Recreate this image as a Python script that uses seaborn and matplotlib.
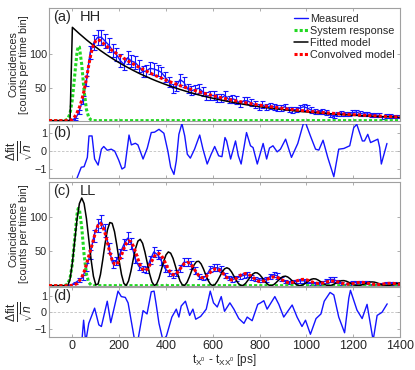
import numpy as np
import matplotlib
matplotlib.use('Agg')
import matplotlib.pyplot as plt
import seaborn as sns

sns.set_theme(style='ticks')
plt.rcParams['font.family'] = ['Liberation Sans', 'DejaVu Sans']
plt.rcParams['mathtext.fontset'] = 'custom'
plt.rcParams['mathtext.rm'] = 'Liberation Sans'
plt.rcParams['mathtext.it'] = 'Liberation Sans:italic'

# 时间轴 (ps)
t_model = np.arange(-100, 1401, 10)
t_meas = np.arange(-100, 1389, 16)

# 系统响应 (两组共用)
t_sys = [-100, -40, -30, -20, -10, 0, 10, 20, 25, 30, 40, 50, 60, 70, 80, 90, 1400]
sys_resp = [0, 0, 0.4, 2.5, 10.6, 32.0, 68.5, 103.8, 112.2, 111.3, 84.4, 45.2, 17.2, 4.6, 0.9, 0, 0]

# (a) HH
fit_hh = [0, 0, 0, 0, 0, 0, 0, 0, 0, 0,
          141.0, 137.7, 134.4, 131.3, 128.2, 125.2, 122.2, 119.3, 116.5, 113.8,
          111.1, 108.5, 105.9, 103.4, 101.0, 98.6, 96.3, 94.0, 91.8, 89.6,
          87.5, 85.5, 83.4, 81.5, 79.6, 77.7, 75.9, 74.1, 72.3, 70.6,
          69.0, 67.3, 65.8, 64.2, 62.7, 61.2, 59.8, 58.4, 57.0, 55.7,
          54.4, 53.1, 51.8, 50.6, 49.4, 48.2, 47.1, 46.0, 44.9, 43.9,
          42.8, 41.8, 40.8, 39.9, 38.9, 38.0, 37.1, 36.3, 35.4, 34.6,
          33.8, 33.0, 32.2, 31.4, 30.7, 30.0, 29.3, 28.6, 27.9, 27.2,
          26.6, 26.0, 25.4, 24.8, 24.2, 23.6, 23.1, 22.5, 22.0, 21.5,
          21.0, 20.5, 20.0, 19.5, 19.1, 18.6, 18.2, 17.8, 17.3, 16.9,
          16.5, 16.1, 15.8, 15.4, 15.0, 14.7, 14.3, 14.0, 13.7, 13.3,
          13.0, 12.7, 12.4, 12.1, 11.8, 11.6, 11.3, 11.0, 10.8, 10.5,
          10.3, 10.0, 9.8, 9.6, 9.3, 9.1, 8.9, 8.7, 8.5, 8.3,
          8.1, 7.9, 7.7, 7.5, 7.4, 7.2, 7.0, 6.9, 6.7, 6.5,
          6.4, 6.2, 6.1, 5.9, 5.8, 5.7, 5.5, 5.4, 5.3, 5.2,
          5.0]
conv_hh = [0, 0, 0, 0, 0, 0, 0, 0, 0, 0.5,
           2, 6, 12, 20, 31, 45, 63, 84, 102, 114,
           120.5, 122.5, 120.5, 117.5, 114.0, 111.3, 108.6, 106.1, 103.6, 101.1,
           98.7, 96.4, 94.1, 91.9, 89.7, 87.6, 85.5, 83.5, 81.5, 79.6,
           77.7, 75.9, 74.1, 72.3, 70.6, 68.9, 67.3, 65.7, 64.1, 62.6,
           61.1, 59.7, 58.3, 56.9, 55.5, 54.2, 52.9, 51.7, 50.4, 49.2,
           48.1, 46.9, 45.8, 44.7, 43.7, 42.6, 41.6, 40.6, 39.7, 38.7,
           37.8, 36.9, 36.0, 35.2, 34.3, 33.5, 32.7, 32.0, 31.2, 30.5,
           29.7, 29.0, 28.3, 27.7, 27.0, 26.4, 25.7, 25.1, 24.5, 23.9,
           23.4, 22.8, 22.3, 21.7, 21.2, 20.7, 20.2, 19.7, 19.3, 18.8,
           18.4, 17.9, 17.5, 17.1, 16.7, 16.3, 15.9, 15.5, 15.2, 14.8,
           14.5, 14.1, 13.8, 13.4, 13.1, 12.8, 12.5, 12.2, 11.9, 11.6,
           11.4, 11.1, 10.8, 10.6, 10.3, 10.1, 9.9, 9.6, 9.4, 9.2,
           9.0, 8.7, 8.5, 8.3, 8.1, 7.9, 7.8, 7.6, 7.4, 7.2,
           7.0, 6.9, 6.7, 6.6, 6.4, 6.2, 6.1, 5.9, 5.8, 5.7,
           5.5]
meas_hh = [0, 0, 0, 0, 0, 0, 1, 2, 13, 31,
           60, 103, 118, 126, 126, 120, 114, 106, 100, 91,
           85, 95, 90, 88, 82, 74, 75, 79, 78, 76,
           73, 66, 59, 49, 52, 62, 58, 48, 45, 47,
           49, 44, 37, 38, 38, 34, 34, 38, 32, 33,
           31, 25, 30, 30, 27, 24, 21, 24, 20, 22,
           21, 19, 19, 21, 17, 16, 17, 19, 21, 19,
           16, 14, 13, 14, 12, 9, 6, 10, 11, 10,
           10, 12, 13, 11, 10, 10, 9, 9, 8, 5,
           7, 7, 6, 6]

# (b) HH 残差
t_res_hh = [10, 17, 38, 50, 64, 71, 84, 95, 110, 124, 134, 149, 166, 181, 198, 212, 224,
            242, 252, 269, 280, 302, 320, 337, 351, 370, 391, 408, 420, 434, 444, 455,
            468, 480, 491, 504, 522, 544, 558, 576, 593, 608, 625, 639, 652, 659, 676,
            697, 709, 721, 744, 761, 772, 790, 815, 830, 842, 857, 875, 889, 911, 936,
            963, 986, 996, 1017, 1039, 1053, 1071, 1091, 1117, 1138, 1160, 1185, 1202,
            1215, 1239, 1248, 1262, 1274, 1305, 1313, 1320, 1344]
res_hh = [-2.0, -1.6, -0.9, -0.87, -0.35, 0.85, 0.85, -0.44, -0.78, 0.11, 0.26, 0.05, 0.11,
          0.0, -0.5, -1.0, -0.9, 0.9, 0.35, 0.44, 0.35, -0.44, 0.17, 1.04, 1.06, 1.22, 1.0,
          0.0, -0.9, -1.3, -0.54, 0.94, 1.54, 0.85, -0.17, -0.39, 0.11, 0.9, 0.11, -0.72,
          -0.17, 0.26, -0.26, -0.31, 0.76, 0.57, -0.44, 0.57, -0.26, -0.72, 1.04, 0.3, 0.2,
          -0.72, 0.43, -0.44, 0.17, 0.3, -0.04, 0.11, 0.67, -0.35, 0.43, 1.5, 1.6, 0.85,
          0.11, 0.06, 0.61, -0.35, -1.43, 0.11, 0.15, 0.3, 1.31, 1.5, 0.57, 0.57, 0.94,
          0.48, 0.67, 0.2, -0.72, 0.43]

# (c) LL
fit_ll = [0, 0, 0, 0, 0, 0, 0, 0, 0, 9.1,
          33.3, 65.5, 96.8, 119.3, 127.3, 119.4, 97.7, 68.0, 37.6, 13.5,
          1.1, 2.5, 16.2, 38.0, 61.8, 81.3, 91.7, 90.6, 78.5, 58.6,
          35.9, 16.0, 3.2, 0.2, 6.9, 20.9, 38.1, 54.1, 64.7, 67.3,
          61.5, 48.8, 32.7, 17.0, 5.3, 0.2, 2.3, 10.6, 22.7, 35.1,
          44.7, 49.0, 47.1, 39.7, 28.6, 16.8, 6.8, 1.0, 0.4, 4.9,
          12.8, 22.0, 30.1, 34.9, 35.4, 31.5, 24.3, 15.6, 7.6, 2.0,
          0, 1.9, 6.8, 13.4, 19.8, 24.4, 26.0, 24.4, 20.0, 13.9,
          7.7, 2.8, 0.2, 0.5, 3.3, 7.8, 12.6, 16.6, 18.8, 18.5,
          16.0, 12.0, 7.3, 3.3, 0.7, 0.0, 1.4, 4.3, 7.8, 11.1,
          13.2, 13.8, 12.6, 10.0, 6.7, 3.5, 1.1, 0.0, 0.5, 2.2,
          4.6, 7.2, 9.2, 10.0, 9.7, 8.1, 5.9, 3.4, 1.4, 0.2,
          0.1, 1.0, 2.6, 4.5, 6.2, 7.2, 7.3, 6.5, 5.0, 3.2,
          1.6, 0.4, 0, 0.4, 1.4, 2.8, 4.1, 5.1, 5.4, 5.1,
          4.2, 2.9, 1.6, 0.6, 0.0, 0.1, 0.7, 1.6, 2.7, 3.5,
          4.0]
conv_ll = [0, 0, 0, 0, 0, 0, 0, 0, 0, 0,
           0.5, 1.5, 3, 7, 12, 20, 31, 43, 54, 66.8,
           79.2, 87.9, 90.4, 86.0, 75.8, 62.1, 48.2, 37.1, 31.0, 30.8,
           35.8, 44.4, 53.8, 61.3, 65.0, 63.8, 57.9, 48.9, 38.7, 29.6,
           23.6, 21.7, 24.0, 29.4, 36.1, 42.3, 46.2, 46.7, 43.9, 38.1,
           30.9, 23.8, 18.4, 15.8, 16.3, 19.5, 24.1, 28.9, 32.4, 33.9,
           32.8, 29.4, 24.4, 19.1, 14.7, 11.9, 11.4, 13.0, 16.0, 19.5,
           22.5, 24.2, 24.2, 22.2, 19.1, 15.3, 11.7, 9.2, 8.2, 8.7,
           10.5, 13.0, 15.5, 17.1, 17.6, 16.8, 14.8, 12.2, 9.4, 7.2,
           6.0, 6.0, 7.0, 8.6, 10.4, 12.0, 12.6, 12.4, 11.3, 9.6,
           7.5, 5.7, 4.6, 4.2, 4.6, 5.7, 7.1, 8.2, 9.0, 9.1,
           8.5, 7.4, 6.0, 4.6, 3.6, 3.1, 3.2, 3.8, 4.7, 5.6,
           6.3, 6.6, 6.4, 5.7, 4.8, 3.7, 2.8, 2.3, 2.2, 2.5,
           3.1, 3.8, 4.4, 4.7, 4.7, 4.3, 3.7, 3.0, 2.3, 1.8,
           1.6, 1.7, 2.0, 2.5, 3.0, 3.3, 3.4, 3.3, 2.9, 2.4,
           1.8]
meas_ll = [0, 0, 0, 0, 0, 0, 1, 4, 8, 12,
           27, 45, 72, 88, 93, 80, 55, 32, 36, 47,
           60, 69, 61, 39, 28, 24, 23, 37, 49, 45,
           36, 25, 19, 15, 18, 25, 34, 34, 30, 22,
           13, 11, 14, 24, 26, 26, 24, 15, 11, 9,
           10.5, 13, 15, 16, 12, 10, 8, 8, 9, 13,
           16, 14, 10, 6, 5, 5.5, 6, 7, 7, 6,
           3, 3, 3, 4.5, 7, 9, 9, 6, 3, 1,
           3.4, 4.4, 4.3, 4.2, 4.1, 4.6, 1.3, 1.1, 1.6, 2.2,
           3.6, 3.5, 3, 2.7]

# (d) LL 残差
t_res_ll = [39, 48, 57, 70, 95, 113, 124, 149, 164, 195, 209, 226, 238, 266, 280, 302, 319,
            337, 349, 358, 370, 387, 402, 425, 444, 455, 465, 483, 501, 515, 527, 548,
            572, 589, 603, 619, 636, 650, 673, 690, 711, 733, 747, 768, 792, 804, 818,
            832, 865, 882, 903, 939, 960, 981, 996, 1017, 1041, 1062, 1076, 1101, 1117,
            1138, 1163, 1181, 1188, 1216, 1238, 1259, 1285, 1302, 1323, 1345]
res_ll = [-2.0, -0.48, -1.8, -0.67, 0.25, -0.76, -0.86, 0.67, -0.63, 1.28, 0.95, 0.9, 0.57,
          -1.7, -1.7, 0.1, -0.1, 1.24, 1.28, 0.48, -0.67, -1.7, -1.43, -0.29, 0.19, -0.29,
          0.38, 0.67, -0.19, 0.19, -0.42, -0.25, 0.19, 1.28, 0.57, 0.32, 0.95, 0.06, 0.57,
          0.19, -0.38, -0.67, -0.29, -0.51, 0.48, 0.57, 0.7, 0.19, 0.95, 0.48, -0.29, 0.44,
          -0.29, -0.86, -0.48, -1.33, -0.38, -0.1, 0.67, 1.2, 1.05, -0.29, -1.24, 0.86,
          1.33, 0.13, -0.38, 0.48, -1.7, -0.19, 0.0, 0.51]

BLUE = '#1414ff'
GREEN = '#22d822'
RED = '#ff0000'
EDGE = '#a0a0a0'
DOT = (0, (1, 0.7))


def draw_counts(ax, meas, fit, conv):
    # 泊松计数误差
    ax.errorbar(t_meas, meas, yerr=np.sqrt(meas), fmt='none', ecolor=BLUE,
                elinewidth=0.8, capsize=1.8, capthick=0.8, zorder=2)
    sns.lineplot(x=t_meas, y=meas, ax=ax, color=BLUE, lw=1, label='Measured',
                 legend=False, zorder=2)
    sns.lineplot(x=t_sys, y=sys_resp, ax=ax, color=GREEN, lw=2.2, linestyle=DOT,
                 label='System response', legend=False, zorder=3)
    sns.lineplot(x=t_model, y=fit, ax=ax, color='black', lw=1.1,
                 label='Fitted model', legend=False, zorder=4)
    sns.lineplot(x=t_model, y=conv, ax=ax, color=RED, lw=2.2, linestyle=DOT,
                 label='Convolved model', legend=False, zorder=5)
    ax.set_yticks([50, 100])
    ax.set_ylabel('Coincidences\n[counts per time bin]', fontsize=7.8, linespacing=1.1)
    ax.yaxis.set_label_coords(-0.057, 0.5)


def draw_resid(ax, t_res, res):
    ax.axhline(0, color='#c0c0c0', lw=0.6, ls=(0, (3, 2)), zorder=1)
    sns.lineplot(x=t_res, y=res, ax=ax, color=BLUE, lw=1, legend=False, zorder=3)
    ax.set_ylim(-1.5, 1.5)
    ax.set_yticks([-1, 0, 1])
    ax.set_ylabel(r'$\frac{\Delta\mathrm{fit}}{\sqrt{n}}$', fontsize=12.5)
    ax.yaxis.set_label_coords(-0.036, 0.5)


fig = plt.figure(figsize=(4.15, 3.7), dpi=100)
ax_a = fig.add_axes([0.118, 0.674, 0.846, 0.304])
ax_b = fig.add_axes([0.118, 0.519, 0.846, 0.145])
ax_c = fig.add_axes([0.118, 0.228, 0.846, 0.279])
ax_d = fig.add_axes([0.118, 0.089, 0.846, 0.134])

draw_counts(ax_a, meas_hh, fit_hh, conv_hh)
ax_a.set_ylim(0, 170)
draw_resid(ax_b, t_res_hh, res_hh)
draw_counts(ax_c, meas_ll, fit_ll, conv_ll)
ax_c.set_ylim(0, 150)
draw_resid(ax_d, t_res_ll, res_ll)

for ax in [ax_a, ax_b, ax_c, ax_d]:
    ax.set_xlim(-100, 1400)
    ax.set_xticks(range(0, 1401, 200))
    ax.tick_params(direction='in', top=True, right=True, length=2.5, width=0.6,
                   color=EDGE, labelsize=7.8, pad=1.5, labelcolor='#262626')
    ax.tick_params(axis='x', labelsize=9, pad=2)
    for sp in ax.spines.values():
        sp.set_color(EDGE)
        sp.set_linewidth(0.8)
    ax.set_xlabel('')
    if ax is not ax_d:
        ax.tick_params(labelbottom=False)

ax_d.set_xlabel(r'$\mathrm{t_{X^0}}$ - $\mathrm{t_{XX^0}}$ [ps]', fontsize=8.5)
ax_d.xaxis.set_label_coords(0.5, -0.31)

for ax, letter, name in [(ax_a, '(a)', 'HH'), (ax_b, '(b)', None),
                         (ax_c, '(c)', 'LL'), (ax_d, '(d)', None)]:
    ax.text(0.011, 0.92 if name else 0.83, letter, transform=ax.transAxes,
            fontsize=10.5, va='center', ha='left', color='#262626')
    if name:
        ax.text(0.088, 0.92, name, transform=ax.transAxes, fontsize=10.5,
                va='center', ha='left', color='#262626')

handles, labels = ax_a.get_legend_handles_labels()
ax_a.legend(handles, labels, loc='upper right', bbox_to_anchor=(1.0, 1.0),
            frameon=False, fontsize=7.8, handlelength=1.3, handletextpad=0.15,
            labelspacing=0.2, borderaxespad=0.3, borderpad=0.2)

fig.savefig('out.png', dpi=100)
